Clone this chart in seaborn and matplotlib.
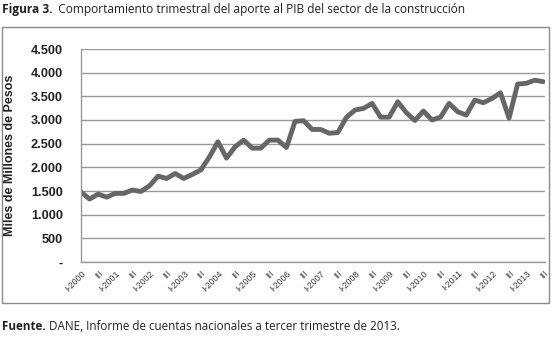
import matplotlib
matplotlib.use('Agg')
import matplotlib.pyplot as plt
from matplotlib.patches import Rectangle
import seaborn as sns
import pandas as pd
import numpy as np


# quarterly values, I-2000 .. III-2013
years = list(range(2000, 2014))
quarter_names = ["I", "II", "III", "IV"]
aporte = [
    1480, 1330, 1435, 1370, 1450, 1450, 1520, 1490,   # 2000-2001
    1610, 1815, 1765, 1870, 1765, 1850, 1945, 2220,   # 2002-2003
    2540, 2195, 2435, 2575, 2405, 2405, 2575, 2575,   # 2004-2005
    2420, 2970, 2985, 2800, 2800, 2720, 2735, 3055,   # 2006-2007
    3210, 3245, 3350, 3060, 3060, 3385, 3155, 2990,   # 2008-2009
    3190, 3000, 3060, 3350, 3175, 3105, 3420, 3365,   # 2010-2011
    3455, 3575, 3040, 3760, 3775, 3840, 3810,         # 2012-III 2013
]
y_ticks = [0, 500, 1000, 1500, 2000, 2500, 3000, 3500, 4000, 4500]
y_tick_labels = ["-", "500", "1.000", "1.500", "2.000", "2.500",
                 "3.000", "3.500", "4.000", "4.500"]

periods = [f"{q}-{y}" for y in years for q in quarter_names][:len(aporte)]
df = pd.DataFrame({"idx": np.arange(len(aporte)), "periodo": periods, "valor": aporte})

# tick labels every second quarter: "I-2000", "III", "I-2001", ...
tick_pos = df["idx"][::2].tolist()
tick_lab = [p if p.startswith("I-") else p.split("-")[0] for p in df["periodo"][::2]]

sns.set_style("white")
plt.rcParams['font.family'] = ['Liberation Sans', 'DejaVu Sans']

fig = plt.figure(figsize=(5.53, 3.38), dpi=100)
ax = fig.add_axes([81 / 553, 76 / 338, 464 / 553, 213 / 338])

sns.lineplot(data=df, x="idx", y="valor", ax=ax, color="#666666", linewidth=3.5,
             solid_joinstyle="round", solid_capstyle="round")

ax.set_xlim(0, 54.2)
ax.set_ylim(0, 4500)
ax.set_yticks(y_ticks)
ax.set_yticklabels(y_tick_labels, fontsize=9.2, fontweight='bold', color='#222222')
ax.set_xticks(tick_pos)
ax.set_xticklabels(tick_lab, rotation=45, ha='right', rotation_mode='anchor',
                   fontsize=6.4, color='#3a3a3a')
ax.tick_params(axis='y', length=0, pad=13)
ax.tick_params(axis='x', length=0, pad=5)

ax.yaxis.grid(True, color='#9a9a9a', linewidth=1.0)
ax.xaxis.grid(False)
ax.set_axisbelow(True)
for side in ['top', 'right']:
    ax.spines[side].set_visible(False)
for side in ['left', 'bottom']:
    ax.spines[side].set_color('#9a9a9a')
    ax.spines[side].set_linewidth(1.0)

ax.set_xlabel("")
ax.set_ylabel("Miles de Millones de Pesos", fontsize=9, fontweight='bold', color='#222222')
ax.yaxis.set_label_coords(-0.14, 0.5)

# outer frame of the figure box
fig.patches.append(Rectangle((2 / 553, 35 / 338), 547 / 553, 276 / 338,
                             transform=fig.transFigure, fill=False,
                             edgecolor='#8a8a8a', linewidth=1.0))

t1 = fig.text(2 / 553, 1 - 10 / 338, "Figura 3.", family='Open Sans', fontsize=8.6,
              fontweight='bold', va='center', ha='left', color='#222222')
ax.annotate("  Comportamiento trimestral del aporte al PIB del sector de la construcción",
            xy=(1, 0), xycoords=t1, va='bottom', ha='left', family='Open Sans',
            fontsize=8.6, color='#222222', annotation_clip=False)

t2 = fig.text(2 / 553, 1 - 326 / 338, "Fuente.", family='Open Sans', fontsize=8.4,
              fontweight='bold', va='center', ha='left', color='#222222')
ax.annotate(" DANE, Informe de cuentas nacionales a tercer trimestre de 2013.",
            xy=(1, 0), xycoords=t2, va='bottom', ha='left', family='Open Sans',
            fontsize=8.4, color='#222222', annotation_clip=False)

plt.savefig("out.png", dpi=100)
plt.close()
